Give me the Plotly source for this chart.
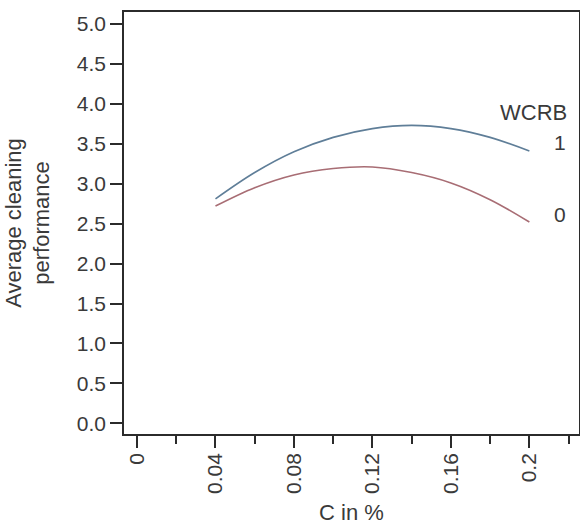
import plotly.graph_objects as go

# C content (%) at which the fitted curves are sampled
c_pct = [0.04, 0.06, 0.08, 0.10, 0.12, 0.14, 0.16, 0.18, 0.20]

# Average cleaning performance for each WCRB level
perf_wcrb1 = [2.81, 3.14, 3.40, 3.58, 3.69, 3.73, 3.69, 3.58, 3.41]
perf_wcrb0 = [2.72, 2.95, 3.11, 3.19, 3.21, 3.14, 3.01, 2.80, 2.52]

x_tick_vals = [0, 0.04, 0.08, 0.12, 0.16, 0.2]
x_tick_text = ["0", "0.04", "0.08", "0.12", "0.16", "0.2"]
y_tick_vals = [0.0, 0.5, 1.0, 1.5, 2.0, 2.5, 3.0, 3.5, 4.0, 4.5, 5.0]
y_tick_text = ["0.0", "0.5", "1.0", "1.5", "2.0", "2.5", "3.0", "3.5", "4.0", "4.5", "5.0"]

FONT = "Arial, Liberation Sans, sans-serif"
TEXT_COLOR = "#3a3a3a"
AXIS_COLOR = "#2b2b2b"

fig = go.Figure()
fig.add_trace(go.Scatter(
    x=c_pct, y=perf_wcrb1, mode="lines", name="1",
    line=dict(color="#5f7e98", width=1.6, shape="spline"),
))
fig.add_trace(go.Scatter(
    x=c_pct, y=perf_wcrb0, mode="lines", name="0",
    line=dict(color="#a86d74", width=1.6, shape="spline"),
))

# Group labels at the right-hand end of each curve
fig.add_annotation(x=0.2203, y=3.89, xref="x", yref="y", text="WCRB",
                   showarrow=False, xanchor="right", yanchor="middle",
                   font=dict(family=FONT, size=22, color=TEXT_COLOR))
fig.add_annotation(x=0.2199, y=3.51, xref="x", yref="y", text="1",
                   showarrow=False, xanchor="right", yanchor="middle",
                   font=dict(family=FONT, size=21, color=TEXT_COLOR))
fig.add_annotation(x=0.2199, y=2.61, xref="x", yref="y", text="0",
                   showarrow=False, xanchor="right", yanchor="middle",
                   font=dict(family=FONT, size=21, color=TEXT_COLOR))

fig.update_layout(
    template="none",
    width=580, height=526,
    margin=dict(l=124, r=1, t=12, b=92),
    paper_bgcolor="white", plot_bgcolor="white",
    showlegend=False,
    font=dict(family=FONT, color=TEXT_COLOR),
)
fig.update_xaxes(
    range=[-0.00663, 0.2253],
    tickmode="array", tickvals=x_tick_vals, ticktext=x_tick_text,
    tickangle=-90, tickfont=dict(family=FONT, size=21, color=TEXT_COLOR),
    ticks="outside", ticklen=12, tickwidth=1.5, tickcolor=AXIS_COLOR,
    ticklabelstandoff=-3,
    minor=dict(dtick=0.02, tick0=0, ticks="outside", ticklen=8,
               tickwidth=1.5, tickcolor=AXIS_COLOR, showgrid=False),
    showline=True, linecolor=AXIS_COLOR, linewidth=1.5, mirror=True,
    showgrid=False, zeroline=False, automargin=False,
    title=dict(text="C in %", font=dict(family=FONT, size=22, color=TEXT_COLOR),
               standoff=12),
)
fig.update_yaxes(
    range=[-0.134, 5.150],
    tickmode="array", tickvals=y_tick_vals, ticktext=y_tick_text,
    tickfont=dict(family=FONT, size=21, color=TEXT_COLOR),
    ticks="outside", ticklen=12, tickwidth=1.5, tickcolor=AXIS_COLOR,
    showline=True, linecolor=AXIS_COLOR, linewidth=1.5, mirror=True,
    showgrid=False, zeroline=False, automargin=False,
    title=dict(text="Average cleaning<br>performance",
               font=dict(family=FONT, size=22, color=TEXT_COLOR), standoff=21),
)

fig.write_html("out.html")
